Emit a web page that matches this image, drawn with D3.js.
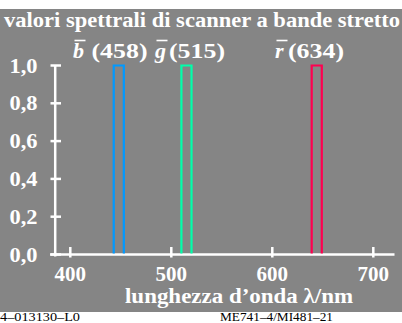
<!DOCTYPE html>
<html>
<head>
<meta charset="utf-8">
<script src="https://cdn.jsdelivr.net/npm/d3@7"></script>
<style>
  html, body { margin: 0; padding: 0; background: #ffffff; }
  svg { display: block; }
  text { font-family: "Liberation Serif", "DejaVu Serif", serif; }
</style>
</head>
<body>
<script>
// Narrow-band scanner channels: name, label wavelength, band start/end (nm)
const channelNames = ["b", "g", "r"];
const channelLabels = ["458", "515", "634"];
const bandStart = [443, 510, 639];
const bandEnd = [453, 520, 649];
const bandValue = [1.0, 1.0, 1.0];
const channelColors = ["#0099ff", "#00ffaa", "#ff0050"];

const xTicks = [400, 500, 600, 700];
const yTicks = [0, 0.2, 0.4, 0.6, 0.8, 1.0];
const yTickLabels = ["0,0", "0,2", "0,4", "0,6", "0,8", "1,0"];

const W = 402, H = 323;
const svg = d3.select("body").append("svg").attr("width", W).attr("height", H);

// grey panel
svg.append("rect").attr("x", 0).attr("y", 9).attr("width", W).attr("height", 303)
  .attr("fill", "#858585");

const x = d3.scaleLinear().domain([400, 700]).range([70.3, 373.3]);
const y = d3.scaleLinear().domain([0, 1]).range([254.5, 65.5]);

// text helper with a fixed drawn width
function label(parent, tx, ty, str, size, width, anchor, color) {
  const t = parent.append("text").attr("x", tx).attr("y", ty)
    .attr("font-size", size).attr("font-weight", "bold")
    .attr("fill", color || "#ffffff").attr("text-anchor", anchor || "start")
    .text(str);
  if (width) t.attr("textLength", width).attr("lengthAdjust", "spacingAndGlyphs");
  return t;
}

// title
label(svg, 4, 27, "valori spettrali di scanner a bande stretto", 20.5, 396);

// axes
const g = svg.append("g");
g.append("line").attr("x1", x(380)).attr("x2", x(721)).attr("y1", y(0)).attr("y2", y(0))
  .attr("stroke", "#ffffff").attr("stroke-width", 2.5);
g.append("line").attr("x1", 55.2).attr("x2", 55.2).attr("y1", y(0) + 2).attr("y2", y(1))
  .attr("stroke", "#ffffff").attr("stroke-width", 2.5);

g.selectAll(".yt").data(yTicks).enter().append("line")
  .attr("x1", 50.5).attr("x2", 61).attr("y1", d => y(d)).attr("y2", d => y(d))
  .attr("stroke", "#ffffff").attr("stroke-width", 2.5);
g.selectAll(".xt").data(xTicks).enter().append("line")
  .attr("x1", d => x(d)).attr("x2", d => x(d)).attr("y1", y(0) - 7.5).attr("y2", y(0) + 3)
  .attr("stroke", "#ffffff").attr("stroke-width", 2.5);

yTicks.forEach((d, i) => label(g, 37.5, y(d) + 7, yTickLabels[i], 20.5, 28, "end"));
xTicks.forEach(d => label(g, x(d), 281, String(d), 20.5, 31.5, "middle"));

label(svg, 125, 303, "lunghezza d\u2019onda \u03bb/nm", 20.5, 228);

// bands as open outlines
svg.append("g").selectAll("path").data(channelNames).enter().append("path")
  .attr("d", (d, i) => {
    const x0 = x(bandStart[i]), x1 = x(bandEnd[i]);
    const yb = y(0) - 1, yt = y(bandValue[i]);
    return `M${x0},${yb}V${yt}H${x1}V${yb}`;
  })
  .attr("fill", "none").attr("stroke", (d, i) => channelColors[i]).attr("stroke-width", 2.2);

// channel labels: italic letter with overline, then wavelength in brackets
const letterX = [73, 155, 275];
const bracketX = [91.5, 169, 288];
channelNames.forEach((n, i) => {
  svg.append("text").attr("x", letterX[i]).attr("y", 58)
    .attr("font-size", 22).attr("font-weight", "bold").attr("font-style", "italic")
    .attr("fill", "#ffffff").text(n);
  label(svg, bracketX[i], 58, "(" + channelLabels[i] + ")", 21, 56);
  svg.append("line").attr("x1", letterX[i] + 1.5).attr("x2", letterX[i] + 12.5)
    .attr("y1", 40.5).attr("y2", 40.5).attr("stroke", "#ffffff").attr("stroke-width", 1.6);
});

// footer
svg.append("text").attr("x", 0).attr("y", 321).attr("font-size", 12).attr("fill", "#000")
  .attr("textLength", 80).attr("lengthAdjust", "spacingAndGlyphs")
  .text("4\u2013013130\u2013L0");
svg.append("text").attr("x", 220).attr("y", 321).attr("font-size", 12).attr("fill", "#000")
  .attr("textLength", 113).attr("lengthAdjust", "spacingAndGlyphs")
  .text("ME741\u20134/MI481\u201321");
</script>
</body>
</html>
